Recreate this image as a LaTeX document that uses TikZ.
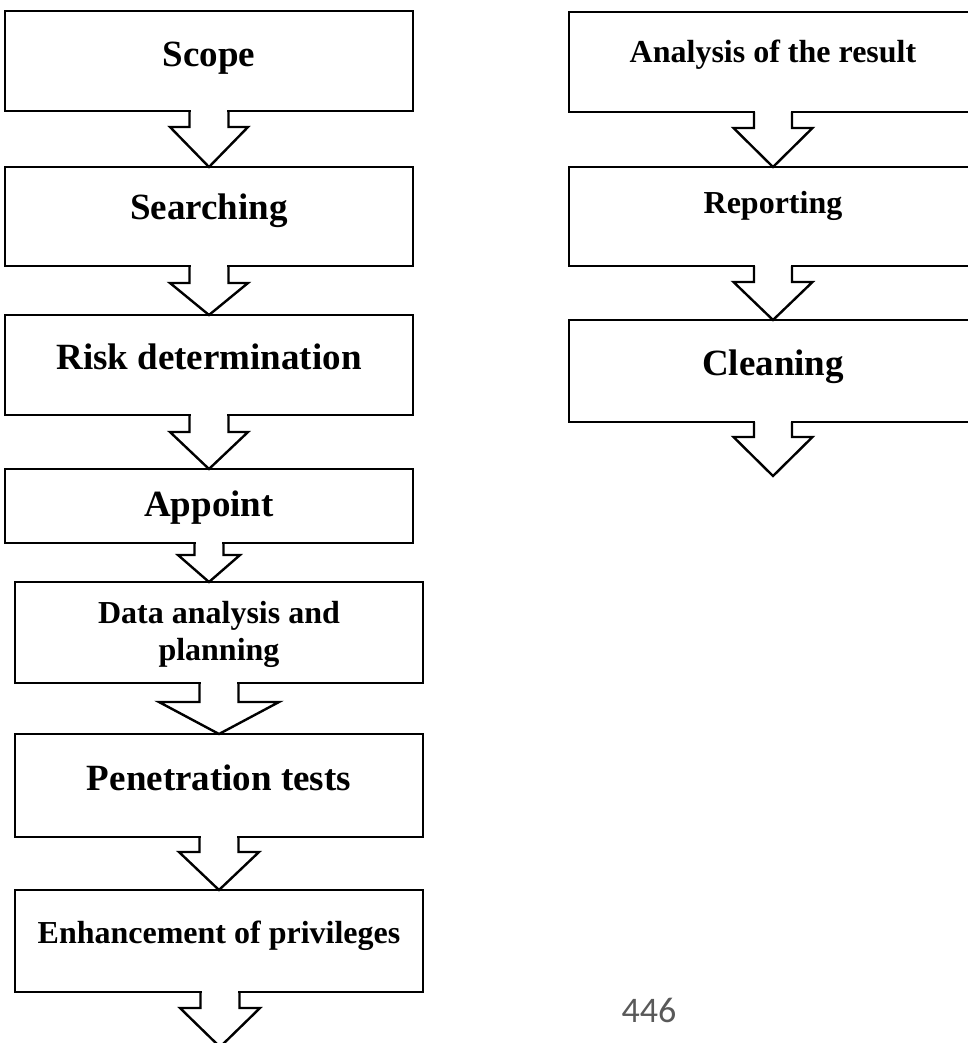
\documentclass[tikz,border=0pt]{standalone}
\usepackage{fontspec}
\setmainfont{Liberation Serif}
\newfontfamily\pagefont{Carlito}
\usetikzlibrary{calc}

% two text sizes used in the step boxes
\newcommand\bigstep{\fontsize{37}{44}\selectfont\bfseries}
\newcommand\smallstep{\fontsize{32}{37}\selectfont\bfseries}

% hollow block arrow from the bottom of one box down to a tip point
% #1 source box, #2 tip point, #3 half stem width, #4 half head width, #5 stem length
\newcommand\flowarrow[5]{%
  \path let \p1=(#1.south), \p2=(#2) in
    [fill=white] (\x2-#3pt+1.4pt,\y1+2.5pt) rectangle (\x2+#3pt-1.4pt,\y1-2.5pt);
  \draw[conn] let \p1=(#1.south), \p2=(#2) in
    (\x2-#3pt,\y1) -- (\x2-#3pt,\y1-#5pt) -- (\x2-#4pt,\y1-#5pt) -- (\x2,\y2)
    -- (\x2+#4pt,\y1-#5pt) -- (\x2+#3pt,\y1-#5pt) -- (\x2+#3pt,\y1);
}

\begin{document}
\begin{tikzpicture}[x=1pt,y=-1pt,
  stepbox/.style 2 args={draw, line width=2.4pt, inner sep=0pt, outer sep=0pt,
    minimum width=#1pt, minimum height=#2pt},
  lbl/.style={anchor=base, inner sep=0pt, align=center},
  conn/.style={draw, line width=2.4pt, line join=miter}]
\useasboundingbox[fill=white] (0,0) rectangle (967,1043);

% left column
\node[stepbox={408}{100}] (scope)  at (209,61)    {};
\node[stepbox={408}{99}]  (search) at (209,216.5) {};
\node[stepbox={408}{100}] (risk)   at (209,365)   {};
\node[stepbox={408}{74}]  (appt)   at (209,506)   {};
\node[stepbox={408}{101}] (data)   at (219,632.5) {};
\node[stepbox={408}{103}] (pen)    at (219,785.5) {};
\node[stepbox={408}{102}] (enh)    at (219,941)   {};

% right column
\node[stepbox={408}{100}] (res)    at (773,62)    {};
\node[stepbox={408}{99}]  (rep)    at (773,216.5) {};
\node[stepbox={408}{102}] (clean)  at (773,371)   {};

% labels
\node[lbl, font=\bigstep]   (tscope)  at (209,67)  {Scope};
\node[lbl, font=\bigstep]   (tsearch) at (209,219) {Searching};
\node[lbl, font=\bigstep]   (trisk)   at (209,369) {Risk determination};
\node[lbl, font=\bigstep]   (tappt)   at (209,516) {Appoint};
\node[lbl, font=\smallstep] (tdata)   at (219,660) {Data analysis and\\planning};
\node[lbl, font=\bigstep]   (tpen)    at (219,790) {Penetration tests};
\node[lbl, font=\smallstep] (tenh)    at (219,943) {Enhancement of privileges};
\node[lbl, font=\smallstep] (tres)    at (773,63)  {Analysis of the result};
\node[lbl, font=\smallstep] (trep)    at (773,213) {Reporting};
\node[lbl, font=\bigstep]   (tclean)  at (773,375) {Cleaning};

% open ends of the last arrows
\coordinate (endL) at (220,1047);
\coordinate (endR) at (773,476);

% connectors
\flowarrow{scope}{search.north}{19.5}{39}{16}
\flowarrow{search}{risk.north}{19.5}{39}{17}
\flowarrow{risk}{appt.north}{19.5}{39}{17}
\flowarrow{appt}{$(data.north)+(-10,0)$}{14.5}{31}{12}
\flowarrow{data}{pen.north}{19.5}{60}{19}
\flowarrow{pen}{enh.north}{19.5}{40}{15}
\flowarrow{enh}{endL}{19.5}{40}{16}
\flowarrow{res}{rep.north}{19}{39.5}{16}
\flowarrow{rep}{clean.north}{19}{39.5}{16}
\flowarrow{clean}{endR}{19}{39.5}{15}

% page number
\node[anchor=base, inner sep=0pt, text=black!65, font=\pagefont\fontsize{36}{40}\selectfont]
  (pageno) at (649,1022) {446};
\end{tikzpicture}
\end{document}
